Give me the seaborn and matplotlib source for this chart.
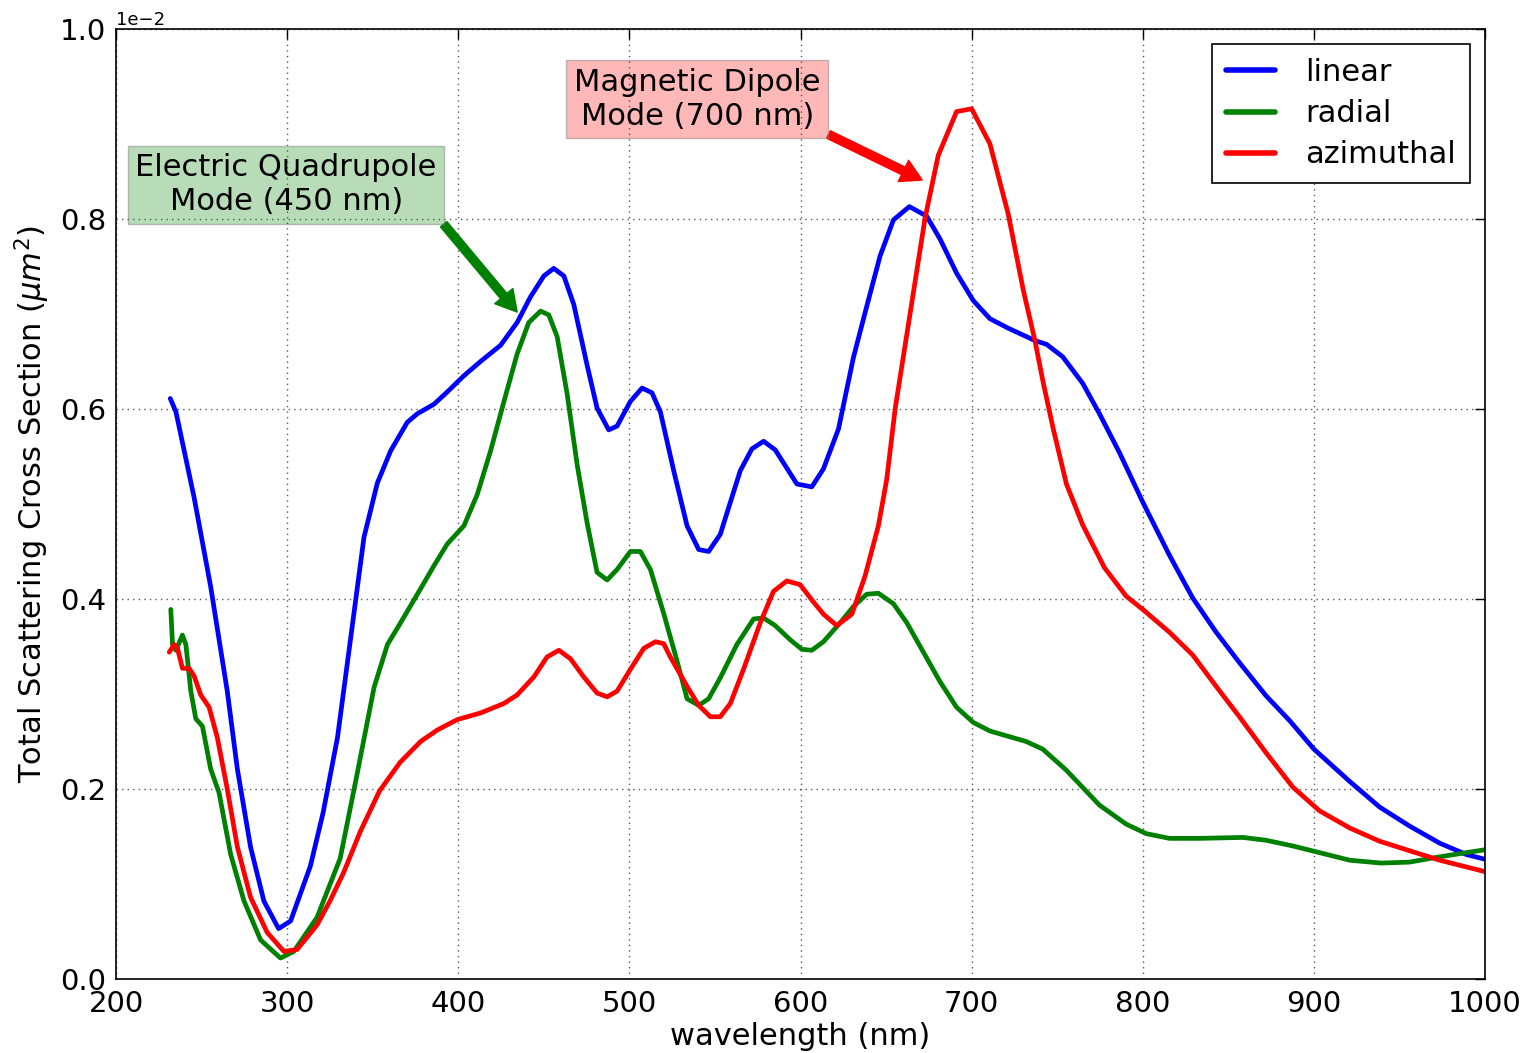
import numpy as np
import pandas as pd
import matplotlib
matplotlib.use('Agg')
import matplotlib.pyplot as plt
import seaborn as sns

# cross sections, in units of 1e-2 um^2
wl_linear = [231.7, 235, 245.6, 255.3, 265, 270.9, 278.6, 286.4, 295, 302,
             313.6, 321, 329.4, 337.2, 344.9, 352.7, 360.5, 370.2, 376.1, 385.8,
             393.6, 403.3, 413, 424.7, 434.4, 442.2, 450, 455.8, 461.7, 467.5,
             475.3, 481.1, 487.9, 492.8, 500.6, 507.4, 513.2, 518.1, 525.9, 533.7,
             540.5, 546.3, 553.1, 564.8, 571.6, 578.4, 585.2, 597.9, 606.6, 613.4,
             622.2, 630.9, 638.7, 646.5, 654.3, 663.6, 673.7, 681.5, 691.2, 701,
             710.7, 721.4, 737, 743.8, 753.2, 764.9, 774.7, 786.4, 800, 815.6,
             829.2, 842.9, 856.5, 872.1, 885.8, 900, 920.9, 938.4, 955.9, 973.5,
             989.1, 1000]
cs_linear = [0.611, 0.597, 0.507, 0.413, 0.303, 0.221, 0.139, 0.082, 0.053, 0.061,
             0.119, 0.175, 0.254, 0.360, 0.465, 0.522, 0.556, 0.586, 0.595, 0.605,
             0.618, 0.635, 0.650, 0.667, 0.691, 0.718, 0.740, 0.748, 0.740, 0.710,
             0.646, 0.601, 0.578, 0.582, 0.608, 0.622, 0.617, 0.597, 0.535, 0.477,
             0.452, 0.450, 0.468, 0.535, 0.558, 0.566, 0.557, 0.521, 0.518, 0.537,
             0.579, 0.654, 0.708, 0.761, 0.799, 0.813, 0.803, 0.779, 0.743, 0.714,
             0.695, 0.685, 0.672, 0.668, 0.655, 0.627, 0.595, 0.554, 0.502, 0.446,
             0.401, 0.365, 0.333, 0.298, 0.272, 0.242, 0.208, 0.181, 0.161, 0.143,
             0.131, 0.126]

wl_radial = [232, 233, 235, 238.8, 240.8, 243.7, 246.6, 250.5, 255.3, 260.2,
             267, 274.8, 284.5, 296.1, 303.9, 317.5, 331, 340.8, 350.8, 358.6,
             366.3, 376.1, 385.8, 393.6, 403.3, 411.1, 418.9, 426.7, 434.4, 441.2,
             448.1, 452.9, 457.8, 463.6, 469.5, 475.3, 481.1, 487, 492.8, 500.6,
             506.4, 512.3, 520, 527.8, 533.7, 540.5, 546.3, 553.1, 562.8, 572.6,
             578.4, 585.2, 594, 600.8, 606.6, 613.4, 623.2, 630.9, 638.7, 645.5,
             654.3, 662.1, 671.8, 681.5, 691.2, 701, 710.7, 731.8, 741.5, 755.2,
             774.7, 790.3, 802, 815.6, 833.1, 858.5, 872.1, 887.7, 903.3, 920.9,
             939.4, 955.9, 971.5, 989.1, 1000]
cs_radial = [0.389, 0.352, 0.346, 0.362, 0.352, 0.303, 0.274, 0.266, 0.221, 0.196,
             0.131, 0.082, 0.041, 0.022, 0.029, 0.065, 0.127, 0.215, 0.307, 0.352,
             0.375, 0.405, 0.435, 0.458, 0.477, 0.510, 0.556, 0.608, 0.658, 0.691,
             0.703, 0.699, 0.676, 0.616, 0.541, 0.480, 0.428, 0.420, 0.431, 0.450,
             0.450, 0.431, 0.385, 0.335, 0.295, 0.288, 0.295, 0.317, 0.352, 0.379,
             0.380, 0.372, 0.357, 0.347, 0.346, 0.355, 0.375, 0.392, 0.405, 0.406,
             0.395, 0.375, 0.344, 0.313, 0.286, 0.270, 0.261, 0.250, 0.242, 0.220,
             0.183, 0.163, 0.153, 0.148, 0.148, 0.149, 0.146, 0.140, 0.133, 0.125,
             0.122, 0.123, 0.128, 0.133, 0.136]

wl_azimuthal = [231.1, 234, 235.9, 238.8, 242.7, 245.6, 249.5, 254.4, 259.2, 265,
                270.9, 278.6, 288.3, 298.1, 305.8, 317.5, 325, 333, 342.7, 354,
                366, 378, 387.7, 399.4, 413, 426.7, 434.4, 444.2, 451.9, 458.8,
                465.6, 473.3, 481.1, 487, 492.8, 500.6, 508.4, 515.2, 520, 523.9,
                533.7, 540.5, 547.3, 553.1, 559, 566.7, 576.5, 584.2, 592, 599.8,
                606.6, 613.4, 621.2, 630, 637.7, 645.5, 650.4, 655.3, 664, 672.8,
                680.5, 691.2, 700, 710.7, 721.4, 730.2, 737, 741.8, 747.7, 755.4,
                764.9, 777.6, 790.3, 800, 815.6, 829.2, 842.9, 856.5, 872.1, 887.7,
                903.3, 920.9, 938.4, 955.9, 973.5, 1000]
cs_azimuthal = [0.344, 0.352, 0.348, 0.327, 0.327, 0.319, 0.299, 0.286, 0.254, 0.200,
                0.139, 0.086, 0.049, 0.029, 0.031, 0.057, 0.082, 0.112, 0.155, 0.198,
                0.228, 0.250, 0.262, 0.273, 0.280, 0.290, 0.299, 0.318, 0.339, 0.346,
                0.337, 0.318, 0.301, 0.297, 0.303, 0.326, 0.348, 0.355, 0.353, 0.339,
                0.308, 0.288, 0.276, 0.276, 0.290, 0.326, 0.375, 0.408, 0.419, 0.415,
                0.399, 0.384, 0.372, 0.384, 0.424, 0.477, 0.526, 0.600, 0.700, 0.801,
                0.867, 0.913, 0.916, 0.879, 0.805, 0.725, 0.672, 0.628, 0.579, 0.521,
                0.478, 0.433, 0.403, 0.389, 0.365, 0.341, 0.308, 0.276, 0.238, 0.202,
                0.177, 0.159, 0.145, 0.135, 0.125, 0.113]

series = [('linear', wl_linear, cs_linear, 'blue'),
          ('radial', wl_radial, cs_radial, 'green'),
          ('azimuthal', wl_azimuthal, cs_azimuthal, 'red')]

sns.set_theme(style='white', rc={'text.color': 'black', 'axes.labelcolor': 'black',
                                 'xtick.color': 'black', 'ytick.color': 'black'})
plt.rcParams['font.family'] = ['DejaVu Sans']
plt.rcParams['mathtext.fontset'] = 'dejavusans'

fig = plt.figure(figsize=(15.39, 10.53), dpi=100)
ax = fig.add_axes([0.0754, 0.0703, 0.8895, 0.9022])

for name, wl, cs, col in series:
    sns.lineplot(x=np.array(wl), y=np.array(cs) * 1e-2, color=col, lw=3.4,
                 label=name, ax=ax)

ax.set_xlim(200, 1000)
ax.set_ylim(0, 0.01)
ax.set_xticks(np.arange(200, 1001, 100))
ax.set_yticks(np.arange(0, 0.0101, 0.002))
ax.ticklabel_format(axis='y', style='sci', scilimits=(0, 0))
ax.yaxis.get_offset_text().set_fontsize(13)
ax.tick_params(direction='in', top=True, right=True, length=7, width=1,
               labelsize=21, colors='black')
ax.tick_params(axis='x', pad=8)
ax.tick_params(axis='y', pad=7)
for sp in ax.spines.values():
    sp.set_color('black')
    sp.set_linewidth(1.2)
ax.grid(True, color='0.35', linestyle=(0, (1, 3)), lw=1)

ax.set_xlabel('wavelength (nm)', fontsize=22, labelpad=3)
ax.set_ylabel(r'Total Scattering Cross Section ($\mu m^2$)', fontsize=22, labelpad=6)

ax.annotate('Electric Quadrupole\nMode (450 nm)', xy=(434.4, 0.702e-2),
            xytext=(299.4, 0.836e-2), ha='center', va='center', fontsize=22,
            bbox=dict(boxstyle='square,pad=0.25', fc=(0, 0.5, 0, 0.28), ec=(0.5, 0.5, 0.5, 0.5)),
            arrowprops=dict(facecolor='green', edgecolor='green', width=6,
                            headwidth=17, headlength=15, shrink=0.0))
ax.annotate('Magnetic Dipole\nMode (700 nm)', xy=(671.1, 0.841e-2),
            xytext=(539.6, 0.926e-2), ha='center', va='center', fontsize=22,
            bbox=dict(boxstyle='square,pad=0.25', fc=(1, 0, 0, 0.28), ec=(0.5, 0.5, 0.5, 0.5)),
            arrowprops=dict(facecolor='red', edgecolor='red', width=6,
                            headwidth=17, headlength=15, shrink=0.0))

leg = ax.legend(loc='upper right', fontsize=22, fancybox=False, framealpha=1,
                edgecolor='black', handlelength=1.6, handletextpad=1.0,
                labelspacing=0.4, borderpad=0.45)
leg.get_frame().set_linewidth(1.2)
for line in leg.get_lines():
    line.set_linewidth(4)

fig.savefig('out.png', dpi=100)
